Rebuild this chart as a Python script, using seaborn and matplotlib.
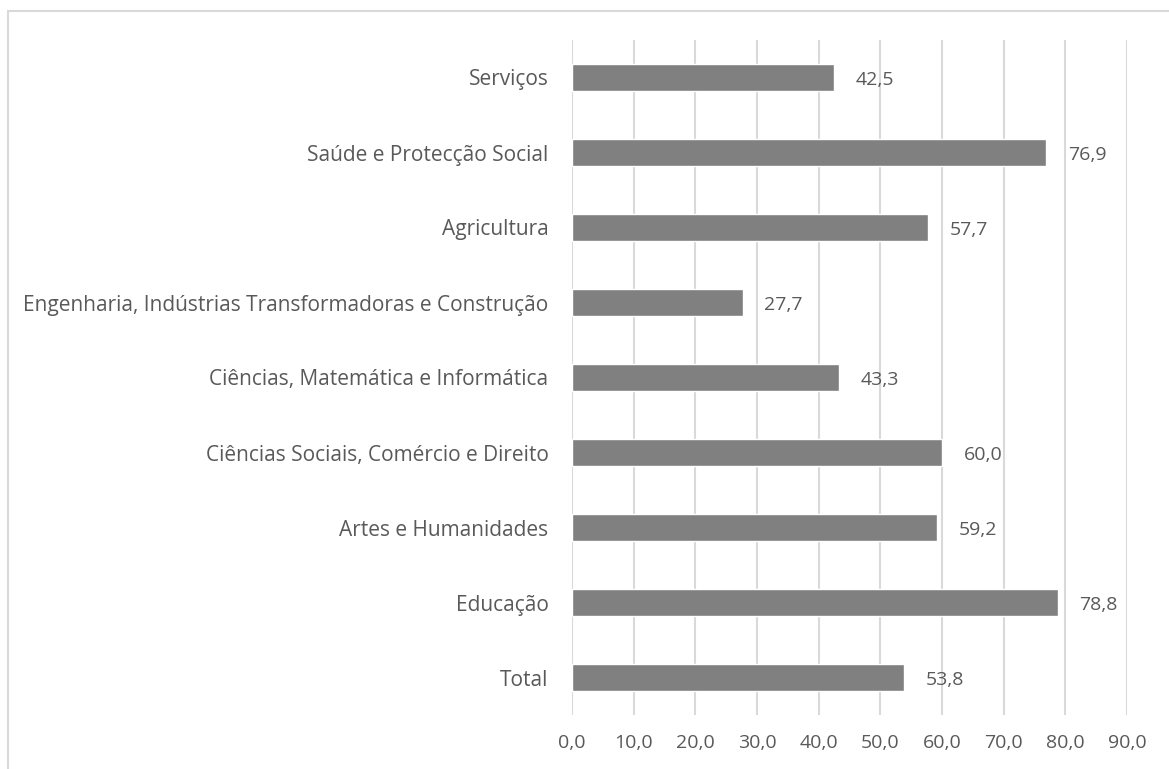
import matplotlib
matplotlib.use("Agg")
import matplotlib.pyplot as plt
import matplotlib.patches as mpatches
import seaborn as sns
import pandas as pd

categories = [
    "Serviços",
    "Saúde e Protecção Social",
    "Agricultura",
    "Engenharia, Indústrias Transformadoras e Construção",
    "Ciências, Matemática e Informática",
    "Ciências Sociais, Comércio e Direito",
    "Artes e Humanidades",
    "Educação",
    "Total",
]
values = [42.5, 76.9, 57.7, 27.7, 43.3, 60.0, 59.2, 78.8, 53.8]
x_ticks = [0, 10, 20, 30, 40, 50, 60, 70, 80, 90]

df = pd.DataFrame({"area": categories, "valor": values})

sns.set_theme(style="white")
plt.rcParams["font.family"] = ["Open Sans", "DejaVu Sans"]

text_color = "#595959"
grid_color = "#d9d9d9"
bar_color = "#808080"

fig = plt.figure(figsize=(11.69, 7.69), dpi=100)
ax = fig.add_axes([572 / 1169, 1 - 715 / 769, (1127 - 572) / 1169, (715 - 40) / 769])

sns.barplot(data=df, x="valor", y="area", orient="h", color=bar_color,
            saturation=1, width=0.35, ax=ax, zorder=3)

ax.set_xlim(0, 90)
ax.set_ylim(len(categories) - 0.5, -0.5)
ax.set_xticks(x_ticks)
ax.set_xticklabels([f"{t:.1f}".replace(".", ",") for t in x_ticks])
ax.set_xlabel("")
ax.set_ylabel("")

for t in x_ticks:
    ax.axvline(t, color=grid_color, lw=1.5, zorder=1)

for s in ax.spines.values():
    s.set_visible(False)

ax.tick_params(axis="both", length=0, labelcolor=text_color)
ax.tick_params(axis="y", pad=17, labelsize=15)
ax.tick_params(axis="x", pad=14, labelsize=14)

for i, v in enumerate(values):
    ax.text(v + 3.5, i + 0.03, f"{v:.1f}".replace(".", ","), va="center", ha="left",
            fontsize=14, color=text_color)

# chart area frame
frame = mpatches.Rectangle((8 / 1169, -0.05), 1.1, 1 - 11 / 769 + 0.05,
                           transform=fig.transFigure, fill=False,
                           edgecolor=grid_color, lw=1.5)
fig.patches.append(frame)

fig.savefig("out.png", dpi=100)
